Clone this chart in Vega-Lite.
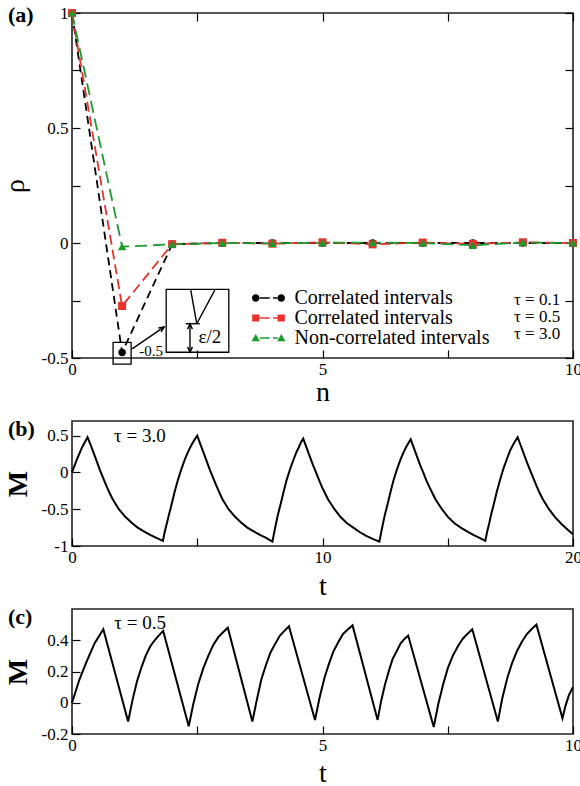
{
  "$schema": "https://vega.github.io/schema/vega-lite/v6.json",
  "padding": {"left": 0, "top": 3, "right": 0, "bottom": 0},
  "background": "white",
  "config": {
    "font": "Liberation Serif",
    "view": {"stroke": "#222222", "strokeWidth": 1.6},
    "axis": {
      "labelFont": "Liberation Serif", "labelFontSize": 17, "labelColor": "black",
      "titleFont": "Liberation Serif", "titleFontSize": 28, "titleFontWeight": "normal", "titleColor": "black",
      "tickColor": "black", "tickSize": -8, "tickWidth": 1.2, "domain": false, "grid": false,
      "labelPadding": 12, "labelFlush": false, "labelOverlap": false, "labelBound": false
    },
    "axisX": {"labelPadding": 11, "titlePadding": 1},
    "axisY": {"titlePadding": 9},
    "legend": {"labelFont": "Liberation Serif", "labelFontSize": 20, "labelColor": "black", "padding": 0, "rowPadding": 0, "title": null, "labelLimit": 0},
    "title": {"font": "Liberation Serif", "fontSize": 22, "fontWeight": "bold", "color": "black", "anchor": "start", "frame": "group", "offset": 0}
  },
  "datasets": {
    "corr": [
      {"n": 0, "rho": 1, "series": "s1", "tau": "τ = 0.1"},
      {"n": 1, "rho": -0.476, "series": "s1", "tau": "τ = 0.1"},
      {"n": 2, "rho": -0.005, "series": "s1", "tau": "τ = 0.1"},
      {"n": 3, "rho": 0, "series": "s1", "tau": "τ = 0.1"},
      {"n": 4, "rho": 0, "series": "s1", "tau": "τ = 0.1"},
      {"n": 5, "rho": 0, "series": "s1", "tau": "τ = 0.1"},
      {"n": 6, "rho": 0, "series": "s1", "tau": "τ = 0.1"},
      {"n": 7, "rho": 0, "series": "s1", "tau": "τ = 0.1"},
      {"n": 8, "rho": 0, "series": "s1", "tau": "τ = 0.1"},
      {"n": 9, "rho": 0, "series": "s1", "tau": "τ = 0.1"},
      {"n": 10, "rho": 0, "series": "s1", "tau": "τ = 0.1"},
      {"n": 0, "rho": 1, "series": "s2", "tau": "τ = 0.5"},
      {"n": 1, "rho": -0.274, "series": "s2", "tau": "τ = 0.5"},
      {"n": 2, "rho": -0.005, "series": "s2", "tau": "τ = 0.5"},
      {"n": 3, "rho": 0.001, "series": "s2", "tau": "τ = 0.5"},
      {"n": 4, "rho": -0.003, "series": "s2", "tau": "τ = 0.5"},
      {"n": 5, "rho": 0.003, "series": "s2", "tau": "τ = 0.5"},
      {"n": 6, "rho": -0.006, "series": "s2", "tau": "τ = 0.5"},
      {"n": 7, "rho": 0.002, "series": "s2", "tau": "τ = 0.5"},
      {"n": 8, "rho": -0.004, "series": "s2", "tau": "τ = 0.5"},
      {"n": 9, "rho": 0.003, "series": "s2", "tau": "τ = 0.5"},
      {"n": 10, "rho": 0, "series": "s2", "tau": "τ = 0.5"},
      {"n": 0, "rho": 1, "series": "s3", "tau": "τ = 3.0"},
      {"n": 1, "rho": -0.016, "series": "s3", "tau": "τ = 3.0"},
      {"n": 2, "rho": -0.006, "series": "s3", "tau": "τ = 3.0"},
      {"n": 3, "rho": 0, "series": "s3", "tau": "τ = 3.0"},
      {"n": 4, "rho": -0.002, "series": "s3", "tau": "τ = 3.0"},
      {"n": 5, "rho": 0.001, "series": "s3", "tau": "τ = 3.0"},
      {"n": 6, "rho": 0.002, "series": "s3", "tau": "τ = 3.0"},
      {"n": 7, "rho": 0, "series": "s3", "tau": "τ = 3.0"},
      {"n": 8, "rho": -0.01, "series": "s3", "tau": "τ = 3.0"},
      {"n": 9, "rho": 0.002, "series": "s3", "tau": "τ = 3.0"},
      {"n": 10, "rho": 0, "series": "s3", "tau": "τ = 3.0"}
    ],
    "magB": [
      {"t": 0, "M": 0}, {"t": 0.2, "M": 0.18}, {"t": 0.4, "M": 0.34}, {"t": 0.62, "M": 0.48},
      {"t": 0.75, "M": 0.37}, {"t": 0.87, "M": 0.26}, {"t": 1.0, "M": 0.14}, {"t": 1.12, "M": 0.03}, {"t": 1.25, "M": -0.08}, {"t": 1.37, "M": -0.18}, {"t": 1.5, "M": -0.28}, {"t": 1.62, "M": -0.36},
      {"t": 1.87, "M": -0.5}, {"t": 2.12, "M": -0.6}, {"t": 2.37, "M": -0.68}, {"t": 2.62, "M": -0.75},
      {"t": 2.87, "M": -0.8}, {"t": 3.12, "M": -0.85}, {"t": 3.37, "M": -0.89}, {"t": 3.63, "M": -0.93},
      {"t": 3.7, "M": -0.81}, {"t": 3.78, "M": -0.7}, {"t": 3.88, "M": -0.56}, {"t": 3.98, "M": -0.43}, {"t": 4.1, "M": -0.26}, {"t": 4.23, "M": -0.1}, {"t": 4.38, "M": 0.06}, {"t": 4.53, "M": 0.2},
      {"t": 4.66, "M": 0.3}, {"t": 4.78, "M": 0.38}, {"t": 4.9, "M": 0.45}, {"t": 5.0, "M": 0.5},
      {"t": 5.13, "M": 0.38}, {"t": 5.25, "M": 0.27}, {"t": 5.38, "M": 0.15}, {"t": 5.5, "M": 0.04}, {"t": 5.63, "M": -0.07}, {"t": 5.75, "M": -0.17}, {"t": 5.88, "M": -0.27}, {"t": 6.0, "M": -0.36},
      {"t": 6.25, "M": -0.5}, {"t": 6.5, "M": -0.6}, {"t": 6.75, "M": -0.68}, {"t": 7.0, "M": -0.75},
      {"t": 7.25, "M": -0.8}, {"t": 7.5, "M": -0.85}, {"t": 7.75, "M": -0.89}, {"t": 8.0, "M": -0.94},
      {"t": 8.07, "M": -0.82}, {"t": 8.14, "M": -0.7}, {"t": 8.23, "M": -0.56}, {"t": 8.33, "M": -0.43}, {"t": 8.45, "M": -0.26}, {"t": 8.57, "M": -0.1}, {"t": 8.71, "M": 0.05}, {"t": 8.85, "M": 0.18},
      {"t": 8.95, "M": 0.27}, {"t": 9.05, "M": 0.34}, {"t": 9.14, "M": 0.41}, {"t": 9.23, "M": 0.46},
      {"t": 9.36, "M": 0.34}, {"t": 9.48, "M": 0.23}, {"t": 9.61, "M": 0.11}, {"t": 9.73, "M": 0.01}, {"t": 9.86, "M": -0.1}, {"t": 9.98, "M": -0.2}, {"t": 10.11, "M": -0.29}, {"t": 10.23, "M": -0.37},
      {"t": 10.48, "M": -0.5}, {"t": 10.73, "M": -0.61}, {"t": 10.98, "M": -0.69}, {"t": 11.23, "M": -0.75},
      {"t": 11.48, "M": -0.81}, {"t": 11.73, "M": -0.86}, {"t": 11.98, "M": -0.9}, {"t": 12.27, "M": -0.94},
      {"t": 12.34, "M": -0.82}, {"t": 12.41, "M": -0.7}, {"t": 12.5, "M": -0.56}, {"t": 12.6, "M": -0.43}, {"t": 12.72, "M": -0.26}, {"t": 12.84, "M": -0.1}, {"t": 12.98, "M": 0.05}, {"t": 13.12, "M": 0.18},
      {"t": 13.23, "M": 0.27}, {"t": 13.33, "M": 0.34}, {"t": 13.43, "M": 0.4}, {"t": 13.52, "M": 0.45},
      {"t": 13.65, "M": 0.33}, {"t": 13.77, "M": 0.22}, {"t": 13.9, "M": 0.1}, {"t": 14.02, "M": 0.0}, {"t": 14.15, "M": -0.11}, {"t": 14.27, "M": -0.2}, {"t": 14.4, "M": -0.29}, {"t": 14.52, "M": -0.37},
      {"t": 14.77, "M": -0.5}, {"t": 15.02, "M": -0.61}, {"t": 15.27, "M": -0.69}, {"t": 15.52, "M": -0.75},
      {"t": 15.77, "M": -0.8}, {"t": 16.02, "M": -0.85}, {"t": 16.27, "M": -0.89}, {"t": 16.5, "M": -0.93},
      {"t": 16.57, "M": -0.81}, {"t": 16.65, "M": -0.7}, {"t": 16.74, "M": -0.56}, {"t": 16.84, "M": -0.43}, {"t": 16.96, "M": -0.26}, {"t": 17.09, "M": -0.1}, {"t": 17.23, "M": 0.06}, {"t": 17.38, "M": 0.2},
      {"t": 17.49, "M": 0.3}, {"t": 17.6, "M": 0.37}, {"t": 17.7, "M": 0.43}, {"t": 17.79, "M": 0.48},
      {"t": 17.92, "M": 0.36}, {"t": 18.04, "M": 0.25}, {"t": 18.17, "M": 0.13}, {"t": 18.29, "M": 0.03}, {"t": 18.42, "M": -0.08}, {"t": 18.54, "M": -0.18}, {"t": 18.67, "M": -0.28}, {"t": 18.79, "M": -0.36},
      {"t": 19.04, "M": -0.5}, {"t": 19.29, "M": -0.61}, {"t": 19.54, "M": -0.7}, {"t": 19.79, "M": -0.78},
      {"t": 20.0, "M": -0.84}
    ],
    "magC": [
      {"t": 0, "M": 0}, {"t": 0.15, "M": 0.15}, {"t": 0.3, "M": 0.27}, {"t": 0.45, "M": 0.38}, {"t": 0.625, "M": 0.47},
      {"t": 1.12, "M": -0.12},
      {"t": 1.21, "M": 0.02}, {"t": 1.3, "M": 0.14}, {"t": 1.39, "M": 0.23}, {"t": 1.47, "M": 0.3}, {"t": 1.56, "M": 0.36}, {"t": 1.65, "M": 0.4}, {"t": 1.73, "M": 0.43}, {"t": 1.82, "M": 0.46},
      {"t": 2.33, "M": -0.15},
      {"t": 2.42, "M": -0.01}, {"t": 2.52, "M": 0.12}, {"t": 2.62, "M": 0.22}, {"t": 2.72, "M": 0.3}, {"t": 2.82, "M": 0.37}, {"t": 2.92, "M": 0.42}, {"t": 3.01, "M": 0.45}, {"t": 3.11, "M": 0.48},
      {"t": 3.6, "M": -0.12},
      {"t": 3.69, "M": 0.02}, {"t": 3.78, "M": 0.15}, {"t": 3.87, "M": 0.24}, {"t": 3.96, "M": 0.32}, {"t": 4.06, "M": 0.38}, {"t": 4.15, "M": 0.43}, {"t": 4.24, "M": 0.46}, {"t": 4.33, "M": 0.49},
      {"t": 4.85, "M": -0.11},
      {"t": 4.94, "M": 0.03}, {"t": 5.04, "M": 0.16}, {"t": 5.13, "M": 0.25}, {"t": 5.22, "M": 0.33}, {"t": 5.32, "M": 0.39}, {"t": 5.41, "M": 0.44}, {"t": 5.51, "M": 0.47}, {"t": 5.6, "M": 0.495},
      {"t": 6.1, "M": -0.11},
      {"t": 6.17, "M": 0.01}, {"t": 6.25, "M": 0.12}, {"t": 6.33, "M": 0.21}, {"t": 6.4, "M": 0.28}, {"t": 6.48, "M": 0.33}, {"t": 6.56, "M": 0.38}, {"t": 6.64, "M": 0.41}, {"t": 6.71, "M": 0.43},
      {"t": 7.22, "M": -0.155},
      {"t": 7.31, "M": -0.01}, {"t": 7.41, "M": 0.12}, {"t": 7.5, "M": 0.22}, {"t": 7.6, "M": 0.3}, {"t": 7.7, "M": 0.36}, {"t": 7.8, "M": 0.41}, {"t": 7.89, "M": 0.44}, {"t": 7.99, "M": 0.47},
      {"t": 8.5, "M": -0.12},
      {"t": 8.59, "M": 0.03}, {"t": 8.69, "M": 0.16}, {"t": 8.78, "M": 0.25}, {"t": 8.88, "M": 0.33}, {"t": 8.98, "M": 0.39}, {"t": 9.08, "M": 0.44}, {"t": 9.17, "M": 0.47}, {"t": 9.27, "M": 0.5},
      {"t": 9.79, "M": -0.1},
      {"t": 9.85, "M": -0.02}, {"t": 9.92, "M": 0.05}, {"t": 10.0, "M": 0.1}
    ]
  },
  "vconcat": [
    {
      "width": 501,
      "height": 345,
      "title": {"text": "(a)", "dx": -64, "dy": 27},
      "resolve": {"axis": {"x": "independent", "y": "independent"}},
      "layer": [
        {
          "data": {"name": "corr"},
          "transform": [{"filter": "datum.series == 's1'"}],
          "mark": {"type": "line", "strokeWidth": 1.8, "color": "#000000", "strokeDash": [8, 5]},
          "encoding": {
            "x": {"field": "n", "type": "quantitative", "scale": {"domain": [0, 10], "nice": false},
                  "axis": {"values": [0, 2.5, 5, 7.5, 10], "labelExpr": "datum.value == 0 ? '0' : datum.value == 5 ? '5' : datum.value == 10 ? '10' : ''", "title": "n"}},
            "y": {"field": "rho", "type": "quantitative", "scale": {"domain": [-0.5, 1], "nice": false, "zero": false},
                  "axis": {"values": [-0.5, -0.25, 0, 0.25, 0.5, 0.75, 1], "labelExpr": "datum.value == 1 ? '1' : datum.value == 0.5 ? '0.5' : datum.value == 0 ? '0' : datum.value == -0.5 ? '-0.5' : ''", "title": "ρ", "titlePadding": 12}}
          }
        },
        {
          "data": {"name": "corr"},
          "transform": [{"filter": "datum.series == 's2'"}],
          "mark": {"type": "line", "strokeWidth": 1.8, "color": "#e8322b", "strokeDash": [10, 5]},
          "encoding": {
            "x": {"field": "n", "type": "quantitative", "axis": null},
            "y": {"field": "rho", "type": "quantitative", "axis": null}
          }
        },
        {
          "data": {"name": "corr"},
          "transform": [{"filter": "datum.series == 's3'"}],
          "mark": {"type": "line", "strokeWidth": 1.8, "color": "#1d9a2e", "strokeDash": [12, 6]},
          "encoding": {
            "x": {"field": "n", "type": "quantitative", "axis": null},
            "y": {"field": "rho", "type": "quantitative", "axis": null}
          }
        },
        {
          "data": {"name": "corr"},
          "transform": [{"filter": "datum.series == 's1'"}],
          "mark": {"type": "point", "shape": "circle", "size": 55, "filled": true, "opacity": 1, "strokeWidth": 0, "color": "#000000"},
          "encoding": {
            "x": {"field": "n", "type": "quantitative", "axis": null},
            "y": {"field": "rho", "type": "quantitative", "axis": null}
          }
        },
        {
          "data": {"name": "corr"},
          "transform": [{"filter": "datum.series == 's2'"}],
          "mark": {"type": "point", "shape": "square", "size": 64, "filled": true, "opacity": 1, "strokeWidth": 0, "color": "#e8322b"},
          "encoding": {
            "x": {"field": "n", "type": "quantitative", "axis": null},
            "y": {"field": "rho", "type": "quantitative", "axis": null}
          }
        },
        {
          "data": {"name": "corr"},
          "transform": [{"filter": "datum.series == 's3'"}],
          "mark": {"type": "point", "shape": "triangle-up", "size": 70, "filled": true, "opacity": 1, "strokeWidth": 0, "color": "#1d9a2e"},
          "encoding": {
            "x": {"field": "n", "type": "quantitative", "axis": null},
            "y": {"field": "rho", "type": "quantitative", "axis": null}
          }
        },
        {
          "data": {"name": "corr"},
          "mark": {"type": "point", "filled": true, "opacity": 0, "strokeWidth": 0},
          "encoding": {
            "x": {"field": "n", "type": "quantitative", "axis": null},
            "y": {"field": "rho", "type": "quantitative", "axis": null},
            "color": {"field": "series", "type": "nominal",
                      "scale": {"domain": ["s1", "s2", "s3"], "range": ["#000000", "#e8322b", "#1d9a2e"]},
                      "legend": {
                        "orient": "none", "legendX": 186.5, "legendY": 275, "title": null, "padding": 0,
                        "labelFont": "Liberation Serif", "labelFontSize": 20, "labelColor": "black", "labelLimit": 0,
                        "labelOffset": 16, "rowPadding": -4.5, "symbolSize": 36, "symbolOpacity": 1, "symbolStrokeWidth": 0,
                        "labelExpr": "datum.value == 's3' ? 'Non-correlated intervals' : 'Correlated intervals'"
                      }},
            "shape": {"field": "series", "type": "nominal",
                      "scale": {"domain": ["s1", "s2", "s3"], "range": [
                        "M-5.5,0A1.25,1.25,0,1,0,-3,0A1.25,1.25,0,1,0,-5.5,0ZM3,0A1.25,1.25,0,1,0,5.5,0A1.25,1.25,0,1,0,3,0ZM-2.9,-0.28H0.4V0.28H-2.9ZM1.5,-0.28H3.1V0.28H1.5Z",
                        "M-5.45,-1.2H-3.05V1.2H-5.45ZM3.05,-1.2H5.45V1.2H3.05ZM-3,-0.28H0.4V0.28H-3ZM1.5,-0.28H3.1V0.28H1.5Z",
                        "M-4.25,-1.35L-2.85,1.1H-5.65ZM4.25,-1.35L5.65,1.1H2.85ZM-2.9,-0.28H0.4V0.28H-2.9ZM1.5,-0.28H3.1V0.28H1.5Z"
                      ]},
                      "legend": {
                        "orient": "none", "legendX": 186.5, "legendY": 275, "title": null, "padding": 0,
                        "labelFont": "Liberation Serif", "labelFontSize": 20, "labelColor": "black", "labelLimit": 0,
                        "labelOffset": 16, "rowPadding": -4.5, "symbolSize": 36, "symbolOpacity": 1, "symbolStrokeWidth": 0,
                        "labelExpr": "datum.value == 's3' ? 'Non-correlated intervals' : 'Correlated intervals'"
                      }},
            "size": {"field": "tau", "type": "ordinal", "scale": {"range": [60, 60]},
                     "legend": {"orient": "none", "legendX": 425, "legendY": 278.6, "title": null, "padding": 0,
                                "labelFont": "Liberation Serif", "labelFontSize": 17, "labelColor": "black",
                                "labelOffset": 0, "rowPadding": -0.9, "symbolOpacity": 0}}
          }
        },
        {
          "data": {"values": [
            {"x1": 0.82, "x2": 1.18, "y1": -0.527, "y2": -0.432},
            {"x1": 1.88, "x2": 3.13, "y1": -0.475, "y2": -0.202}
          ]},
          "mark": {"type": "rect", "fill": null, "fillOpacity": 0, "stroke": "black", "strokeWidth": 1.3},
          "encoding": {
            "x": {"field": "x1", "type": "quantitative",
                  "axis": {"orient": "top", "values": [0, 2.5, 5, 7.5, 10], "labels": false, "title": null}},
            "x2": {"field": "x2"},
            "y": {"field": "y1", "type": "quantitative",
                  "axis": {"orient": "right", "values": [-0.5, -0.25, 0, 0.25, 0.5, 0.75, 1], "labels": false, "title": null}},
            "y2": {"field": "y2"}
          }
        },
        {
          "data": {"values": [
            {"x1": 1.2, "y1": -0.46, "x2": 1.84, "y2": -0.365},
            {"x1": 2.37, "y1": -0.205, "x2": 2.49, "y2": -0.351},
            {"x1": 2.49, "y1": -0.351, "x2": 2.85, "y2": -0.205},
            {"x1": 2.27, "y1": -0.351, "x2": 2.55, "y2": -0.351},
            {"x1": 2.355, "y1": -0.351, "x2": 2.355, "y2": -0.475}
          ]},
          "mark": {"type": "rule", "color": "black", "strokeWidth": 1.4},
          "encoding": {
            "x": {"field": "x1", "type": "quantitative", "axis": null},
            "x2": {"field": "x2"},
            "y": {"field": "y1", "type": "quantitative", "axis": null},
            "y2": {"field": "y2"}
          }
        },
        {
          "data": {"values": [{"x": 1.84, "y": -0.365}]},
          "mark": {"type": "point", "shape": "M-0.8,1.8L0,0L0.8,1.8", "size": 36, "filled": false, "stroke": "black", "strokeWidth": 1.4, "opacity": 1, "angle": 56},
          "encoding": {
            "x": {"field": "x", "type": "quantitative", "axis": null},
            "y": {"field": "y", "type": "quantitative", "axis": null}
          }
        },
        {
          "data": {"values": [{"x": 2.355, "y": -0.351}]},
          "mark": {"type": "point", "shape": "M-0.8,1.8L0,0L0.8,1.8", "size": 36, "filled": false, "stroke": "black", "strokeWidth": 1.4, "opacity": 1},
          "encoding": {
            "x": {"field": "x", "type": "quantitative", "axis": null},
            "y": {"field": "y", "type": "quantitative", "axis": null}
          }
        },
        {
          "data": {"values": [{"x": 2.355, "y": -0.475}]},
          "mark": {"type": "point", "shape": "M-0.8,-1.8L0,0L0.8,-1.8", "size": 36, "filled": false, "stroke": "black", "strokeWidth": 1.4, "opacity": 1},
          "encoding": {
            "x": {"field": "x", "type": "quantitative", "axis": null},
            "y": {"field": "y", "type": "quantitative", "axis": null}
          }
        },
        {
          "data": {"values": [{"x": 2.75, "y": -0.41, "label": "ε/2"}]},
          "mark": {"type": "text", "font": "Liberation Serif", "fontSize": 19, "color": "black"},
          "encoding": {
            "x": {"field": "x", "type": "quantitative", "axis": null},
            "y": {"field": "y", "type": "quantitative", "axis": null},
            "text": {"field": "label"}
          }
        },
        {
          "data": {"values": [{"x": 1.58, "y": -0.47, "label": "-0.5"}]},
          "mark": {"type": "text", "font": "Liberation Serif", "fontSize": 15, "color": "black"},
          "encoding": {
            "x": {"field": "x", "type": "quantitative", "axis": null},
            "y": {"field": "y", "type": "quantitative", "axis": null},
            "text": {"field": "label"}
          }
        }
      ]
    },
    {
      "width": 501,
      "height": 125,
      "title": {"text": "(b)", "dx": -64, "dy": 24},
      "layer": [
        {
          "data": {"name": "magB"},
          "mark": {"type": "line", "color": "black", "strokeWidth": 2},
          "encoding": {
            "x": {"field": "t", "type": "quantitative", "scale": {"domain": [0, 20], "nice": false},
                  "axis": {"values": [0, 5, 10, 15, 20], "labelExpr": "datum.value == 0 ? '0' : datum.value == 10 ? '10' : datum.value == 20 ? '20' : ''", "title": "t", "titlePadding": 7}},
            "y": {"field": "M", "type": "quantitative", "scale": {"domain": [-1, 0.7], "nice": false, "zero": false},
                  "axis": {"values": [-1, -0.75, -0.5, -0.25, 0, 0.25, 0.5], "labelExpr": "datum.value == -1 ? '-1' : datum.value == -0.5 ? '-0.5' : datum.value == 0 ? '0' : datum.value == 0.5 ? '0.5' : ''", "title": "M", "titleFontWeight": "bold"}}
          }
        },
        {
          "data": {"values": [{"label": "τ = 3.0"}]},
          "mark": {"type": "text", "font": "Liberation Serif", "fontSize": 19, "color": "black"},
          "encoding": {
            "x": {"datum": 2.71, "type": "quantitative"},
            "y": {"datum": 0.5, "type": "quantitative"},
            "text": {"field": "label"}
          }
        }
      ]
    },
    {
      "width": 501,
      "height": 125,
      "title": {"text": "(c)", "dx": -64, "dy": 24},
      "layer": [
        {
          "data": {"name": "magC"},
          "mark": {"type": "line", "color": "black", "strokeWidth": 2},
          "encoding": {
            "x": {"field": "t", "type": "quantitative", "scale": {"domain": [0, 10], "nice": false},
                  "axis": {"values": [0, 2.5, 5, 7.5, 10], "labelExpr": "datum.value == 0 ? '0' : datum.value == 5 ? '5' : datum.value == 10 ? '10' : ''", "title": "t", "titlePadding": 6}},
            "y": {"field": "M", "type": "quantitative", "scale": {"domain": [-0.2, 0.6], "nice": false, "zero": false},
                  "axis": {"values": [-0.2, -0.1, 0, 0.1, 0.2, 0.3, 0.4, 0.5], "labelExpr": "datum.value == -0.2 ? '-0.2' : datum.value == 0 ? '0' : datum.value == 0.2 ? '0.2' : datum.value == 0.4 ? '0.4' : ''", "title": "M", "titleFontWeight": "bold"}}
          }
        },
        {
          "data": {"values": [{"label": "τ = 0.5"}]},
          "mark": {"type": "text", "font": "Liberation Serif", "fontSize": 19, "color": "black"},
          "encoding": {
            "x": {"datum": 1.36, "type": "quantitative"},
            "y": {"datum": 0.51, "type": "quantitative"},
            "text": {"field": "label"}
          }
        }
      ]
    }
  ],
  "spacing": 63,
  "bounds": "flush"
}
